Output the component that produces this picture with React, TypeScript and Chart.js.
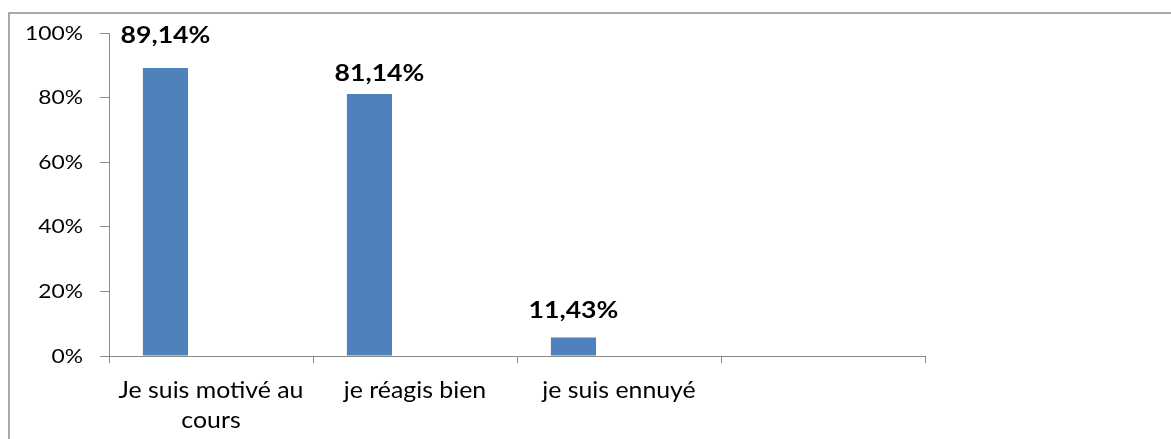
import React, { useEffect, useRef } from "react";
import { Chart, registerables } from "chart.js";

Chart.register(...registerables);

// ---- data ----
const categories: string[][] = [["Je suis motivé au", "cours"], ["je réagis bien"], ["je suis ennuyé"], [""]];
const seriesMain: (number | null)[] = [89.14, 81.14, 5.71, null];
const seriesB: (number | null)[] = [null, null, null, null];
const seriesC: (number | null)[] = [null, null, null, null];
const valueLabels: string[] = ["89,14%", "81,14%", "11,43%"];
const yTicks: number[] = [0, 20, 40, 60, 80, 100];

// ---- styles ----
const FONT_FAMILY = 'Lato, "Open Sans", sans-serif';
const BAR_COLOR = "#4F81BD";
const AXIS_COLOR = "#8a8a8a";
const LABEL_BASE_OFFSET = [25, 13, 20];
const LABEL_DX = [0, 10, 0];

function drawText(ctx: CanvasRenderingContext2D, text: string, x: number, y: number, font: string, sx: number, align: CanvasTextAlign) {
  ctx.save();
  ctx.font = font;
  ctx.fillStyle = "#000";
  ctx.textAlign = align;
  ctx.textBaseline = "alphabetic";
  ctx.translate(x, y);
  ctx.scale(sx, 1);
  ctx.fillText(text, 0, 0);
  ctx.restore();
}

const textPlugin = {
  id: "textPlugin",
  afterDraw(chart: any) {
    const ctx: CanvasRenderingContext2D = chart.ctx;
    const area = chart.chartArea;
    // outer frame
    ctx.save();
    ctx.strokeStyle = "#8c8c8c";
    ctx.lineWidth = 1.5;
    ctx.strokeRect(9, 13, 1400, 800);
    ctx.restore();

    // y tick labels
    const yScale = chart.scales.y;
    yScale.ticks.forEach((t: any) => {
      const y = yScale.getPixelForValue(t.value);
      drawText(ctx, `${t.value}%`, area.left - 26, y + 6.5, `400 19px ${FONT_FAMILY}`, 1.2, "right");
    });

    // x category labels
    const xScale = chart.scales.x;
    categories.forEach((lines, i) => {
      const x = xScale.getPixelForValue(i);
      lines.forEach((line, j) => {
        drawText(ctx, line, x, area.bottom + 42 + j * 30, `400 23px ${FONT_FAMILY}`, 1.08, "center");
      });
    });

    // value labels
    const meta = chart.getDatasetMeta(0);
    valueLabels.forEach((txt, i) => {
      const bar = meta.data[i];
      if (!bar) return;
      drawText(ctx, txt, bar.x + LABEL_DX[i], bar.y - LABEL_BASE_OFFSET[i], `700 22px ${FONT_FAMILY}`, 1.21, "center");
    });
  },
};

export default function App() {
  const ref = useRef<HTMLCanvasElement | null>(null);
  useEffect(() => {
    document.body.style.margin = "0";
    const canvas = ref.current!;
    const chart = new Chart(canvas, {
      type: "bar",
      data: {
        labels: categories,
        datasets: [
          { data: seriesMain, backgroundColor: BAR_COLOR },
          { data: seriesB, backgroundColor: "#C0504D" },
          { data: seriesC, backgroundColor: "#9BBB59" },
        ],
      },
      options: {
        responsive: false,
        animation: false,
        devicePixelRatio: 1,
        layout: { padding: { left: 100, top: 33, right: 1171 - 925, bottom: 439 - 356 - 7 } },
        plugins: { legend: { display: false }, tooltip: { enabled: false } },
        datasets: { bar: { categoryPercentage: 0.67, barPercentage: 0.99 } },
        scales: {
          x: {
            grid: { display: true, drawOnChartArea: false, drawTicks: true, tickLength: 7, color: AXIS_COLOR, offset: true },
            border: { display: true, color: AXIS_COLOR },
            ticks: { display: false },
            afterFit: (s: any) => { s.height = 7; },
          },
          y: {
            min: 0,
            max: 100,
            afterBuildTicks: (s: any) => { s.ticks = yTicks.map((v) => ({ value: v })); },
            ticks: { display: false },
            grid: { display: true, drawOnChartArea: false, drawTicks: true, tickLength: 9, color: AXIS_COLOR },
            border: { display: true, color: AXIS_COLOR },
            afterFit: (s: any) => { s.width = 9; },
          },
        },
      },
      plugins: [textPlugin],
    });
    return () => chart.destroy();
  }, []);
  return <canvas ref={ref} width={1171} height={439} />;
}
